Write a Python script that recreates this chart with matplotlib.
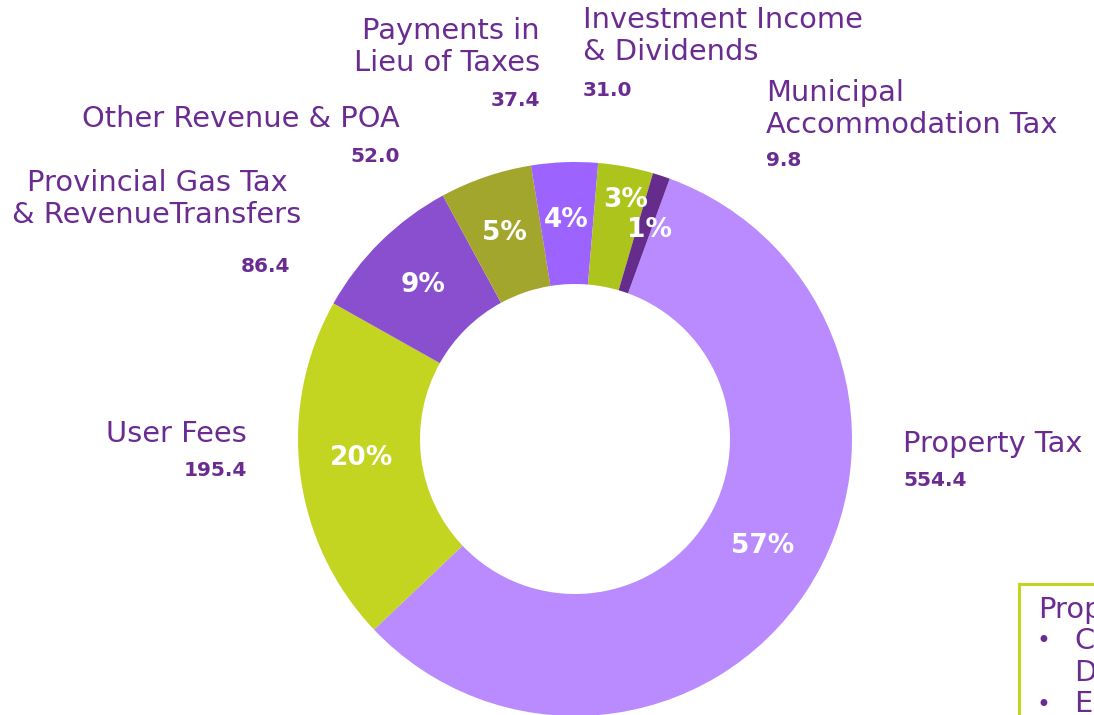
import numpy as np
import matplotlib
matplotlib.use("Agg")
import matplotlib.pyplot as plt
from matplotlib.patches import Rectangle

# revenue sources, in the order drawn clockwise from Property Tax
labels = ["Property Tax", "User Fees", "Provincial Gas Tax\n& RevenueTransfers",
          "Other Revenue & POA", "Payments in\nLieu of Taxes",
          "Investment Income\n& Dividends", "Municipal\nAccommodation Tax"]
values = [554.4, 195.4, 86.4, 52.0, 37.4, 31.0, 9.8]
colors = ["#B98BFE", "#C3D421", "#8A4FCF", "#A3A62C", "#9C63FF", "#ACC41B", "#652C8B"]

W, H = 1094, 715
PURPLE = "#6A2C91"
FONT = ["DejaVu Sans"]
NAME_FS = 20.8


def Y(py):
    # pixel row -> data y (y axis points up)
    return H - py


fig = plt.figure(figsize=(W / 100, H / 100), dpi=100)
ax = fig.add_axes([0, 0, 1, 1])

cx, cy, r_out, r_in = 575, Y(439), 277, 155
wedges, _ = ax.pie(values, colors=colors, startangle=70, counterclock=False,
                   center=(cx, cy), radius=r_out,
                   wedgeprops=dict(width=r_out - r_in, linewidth=0))
ax.set_xlim(0, W)
ax.set_ylim(0, H)
ax.set_aspect("equal")
ax.axis("off")

# percentage labels inside the ring
total = sum(values)
pct_r = [216, 214, 216, 218, 219, 244, 222]
pct_shift = [3.5, -2, 0, 0, 0, -1.5, -1.5]
for w, v, rr, sh in zip(wedges, values, pct_r, pct_shift):
    mid = np.deg2rad((w.theta1 + w.theta2) / 2 + sh)
    ax.text(cx + rr * np.cos(mid), cy + rr * np.sin(mid), f"{100 * v / total:.0f}%",
            ha="center", va="center", color="white", fontsize=19,
            fontweight="bold", family=FONT)

# category name and value labels (pixel positions of the reference layout)
name_pos = [(903, 444, "left"), (247, 434, "right"), (157, 199, "center"),
            (400, 119, "right"), (540, 47, "right"), (583, 36, "left"),
            (766, 109, "left")]
val_pos = [(903, 481, "left"), (247, 470, "right"), (290, 267, "right"),
           (400, 156, "right"), (540, 101, "right"), (583, 90, "left"),
           (766, 161, "left")]
for lab, v, (nx, ny, nha), (vx, vy, vha) in zip(labels, values, name_pos, val_pos):
    ax.text(nx, Y(ny), lab, ha=nha, va="center", multialignment=nha,
            color=PURPLE, fontsize=NAME_FS, linespacing=1.14, family=FONT)
    ax.text(vx, Y(vy), f"{v:.1f}", ha=vha, va="center", color=PURPLE,
            fontsize=14.5, fontweight="bold", family=FONT)

# side note box, cut off at the right edge
ax.add_patch(Rectangle((1019, Y(740)), 200, 156, fill=False,
                       edgecolor="#C3D421", linewidth=2.2))
ax.text(1038, Y(610), "Prop", ha="left", va="center", color=PURPLE,
        fontsize=NAME_FS, family=FONT)
ax.text(1043, Y(641), "\u2022", ha="center", va="center", color=PURPLE,
        fontsize=17, family=FONT)
ax.text(1074, Y(641), "C", ha="left", va="center", color=PURPLE,
        fontsize=NAME_FS, family=FONT)
ax.text(1074, Y(673), "D", ha="left", va="center", color=PURPLE,
        fontsize=NAME_FS, family=FONT)
ax.text(1043, Y(705), "\u2022", ha="center", va="center", color=PURPLE,
        fontsize=17, family=FONT)
ax.text(1074, Y(704), "E", ha="left", va="center", color=PURPLE,
        fontsize=NAME_FS, family=FONT)

fig.savefig("out.png", dpi=100)
